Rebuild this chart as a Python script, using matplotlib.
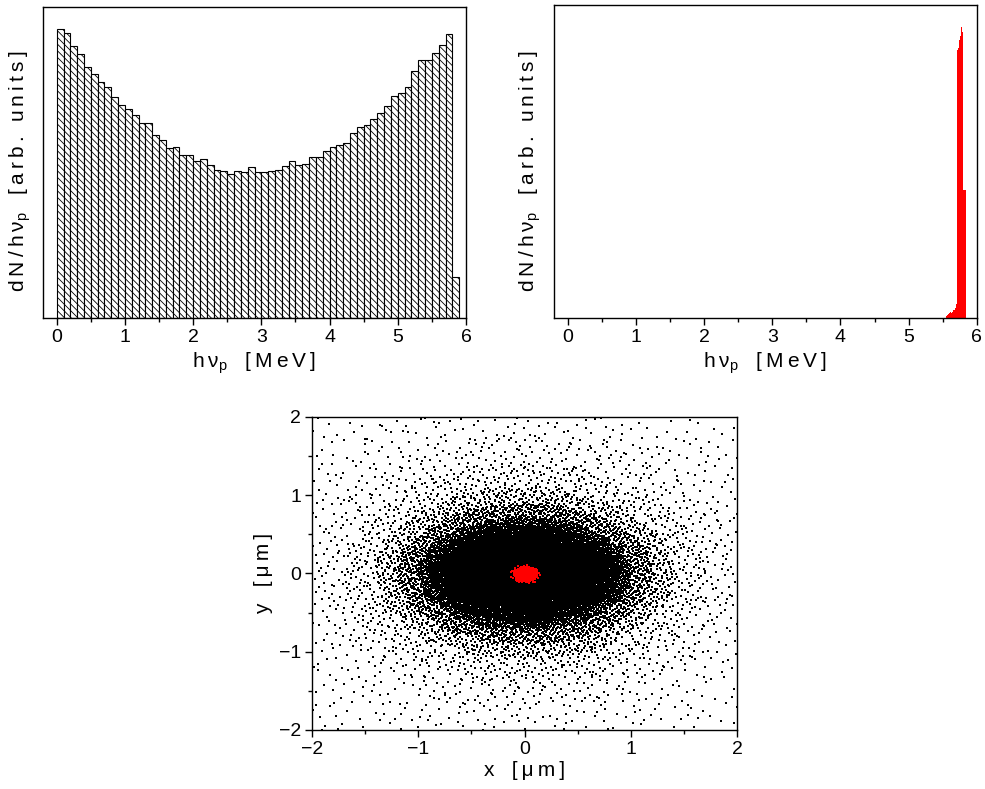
import numpy as np
import matplotlib
matplotlib.use("Agg")
import matplotlib.pyplot as plt
from matplotlib.ticker import MultipleLocator

plt.rcParams['font.family'] = ['Liberation Sans', 'DejaVu Sans']
plt.rcParams['mathtext.default'] = 'regular'
plt.rcParams['hatch.linewidth'] = 0.6
plt.rcParams['axes.linewidth'] = 1.0

# photon spectrum, broad case (0.1 MeV bins from 0, arb. units)
broad_counts = [289, 285, 272, 264, 251, 244, 236, 231, 221, 213,
                209, 203, 195, 195, 183, 178, 170, 171, 163, 163,
                157, 159, 153, 148, 147, 144, 147, 146, 151, 146,
                146, 147, 148, 152, 157, 153, 154, 161, 161, 167,
                171, 173, 175, 185, 191, 193, 199, 205, 212, 222,
                225, 231, 247, 258, 258, 265, 273, 284, 41]
broad_edges = np.round(0.1 * np.arange(len(broad_counts)), 2)

# photon spectrum, narrow case (0.01 MeV bins from 5.55 MeV, arb. units)
narrow_counts = [2, 3, 3, 4, 5, 5, 6, 5, 7, 6, 8, 7, 8, 10, 12, 14,
                 268, 270, 273, 278, 282, 287, 291, 286, 282,
                 128, 128, 128, 128]
narrow_edges = np.round(5.55 + 0.01 * np.arange(len(narrow_counts)), 2)

# transverse electron distribution: elliptical shells (semi-axes in um)
# with the number of particles counted in each shell
shell_a = [0.1, 0.2, 0.3, 0.4, 0.5, 0.6, 0.7, 0.8, 0.9, 1.0, 1.2, 1.4, 1.7, 2.0, 2.4, 2.9]
shell_b = [0.06, 0.12, 0.18, 0.25, 0.31, 0.38, 0.45, 0.53, 0.62, 0.72, 0.9, 1.1, 1.4, 1.75, 2.2, 2.8]
shell_n = [170, 510, 850, 1300, 1550, 2060, 2190, 2230, 1900, 1430, 1700, 1010, 790, 530, 475, 490]

# narrow-spectrum beam spot
spot_center = (0.01, -0.01)
spot_a = [0.06, 0.11, 0.15]
spot_b = [0.055, 0.10, 0.13]
spot_n = [120, 260, 25]


def radical_inverse(idx, base):
    out = np.zeros(len(idx))
    f = 1.0 / base
    i = idx.copy()
    while np.any(i > 0):
        out += f * (i % base)
        i //= base
        f /= base
    return out


def shell_cloud(a_list, b_list, n_list, center=(0.0, 0.0)):
    # Halton filling of each elliptical ring, keeping the points inside the ring
    xs, ys = [], []
    a_prev, b_prev = 0.0, 0.0
    for i, (a, b, n) in enumerate(zip(a_list, b_list, n_list)):
        j = np.arange(1, 40 * n + 1) + 7919 * (i + 1)
        x = (2 * radical_inverse(j, 2) - 1) * a
        y = (2 * radical_inverse(j, 3) - 1) * b
        outer = (x / a) ** 2 + (y / b) ** 2 <= 1
        if a_prev > 0:
            inner = (x / a_prev) ** 2 + (y / b_prev) ** 2 < 1
        else:
            inner = np.zeros_like(outer)
        keep = np.flatnonzero(outer & ~inner)[:n]
        xs.append(center[0] + x[keep])
        ys.append(center[1] + y[keep])
        a_prev, b_prev = a, b
    return np.concatenate(xs), np.concatenate(ys)


def spaced(text):
    return '\u2009'.join(text)


fig = plt.figure(figsize=(9.85, 7.89), dpi=100)

ax1 = fig.add_axes([0.0437, 0.5970, 0.4294, 0.3942])
ax2 = fig.add_axes([0.5624, 0.5970, 0.4294, 0.3967])
ax3 = fig.add_axes([0.3168, 0.0748, 0.4315, 0.3967])

ax1.bar(broad_edges, broad_counts, width=0.1, align='edge', facecolor='white',
        edgecolor='black', linewidth=0.8, hatch='\\\\\\\\\\')
ax2.bar(narrow_edges, narrow_counts, width=0.01, align='edge', color='red',
        edgecolor='none')

ylabel = spaced('dN/hν') + '$_p$   ' + spaced('[arb. units]')
xlabel = spaced('hν') + '$_p$   ' + spaced('[MeV]')
for ax, top, lx in ((ax1, 311, -0.024), (ax2, 313, -0.026)):
    ax.set_xlim(-0.2, 6)
    ax.set_ylim(0, top)
    ax.xaxis.set_major_locator(MultipleLocator(1))
    ax.xaxis.set_minor_locator(MultipleLocator(0.5))
    ax.set_yticks([])
    ax.tick_params(axis='x', which='major', direction='out', length=5, width=1,
                   labelsize=14, pad=3)
    ax.tick_params(axis='x', which='minor', direction='out', length=3, width=1)
    ax.set_xlabel(xlabel, fontsize=15, labelpad=3)
    ax.set_ylabel(ylabel, fontsize=15)
    ax.yaxis.set_label_coords(lx, 0.47)

# electron cloud and beam spot
ex, ey = shell_cloud(shell_a, shell_b, shell_n)
sx, sy = shell_cloud(spot_a, spot_b, spot_n, center=spot_center)
ax3.scatter(ex, ey, s=4, marker='s', color='black', linewidths=0)
ax3.scatter(sx, sy, s=4, marker='s', color='red', linewidths=0, zorder=3)

ax3.set_xlim(-2, 2)
ax3.set_ylim(-2, 2)
for axis in (ax3.xaxis, ax3.yaxis):
    axis.set_major_locator(MultipleLocator(1))
    axis.set_minor_locator(MultipleLocator(0.5))
ax3.tick_params(which='major', direction='out', length=5, width=1, labelsize=14, pad=3)
ax3.tick_params(which='minor', direction='out', length=3, width=1)
ax3.set_xlabel(spaced('x') + '   ' + spaced('[μm]'), fontsize=15, labelpad=2)
ax3.set_ylabel(spaced('y') + '   ' + spaced('[μm]'), fontsize=15, labelpad=4)

fig.savefig('out.png', dpi=100)
